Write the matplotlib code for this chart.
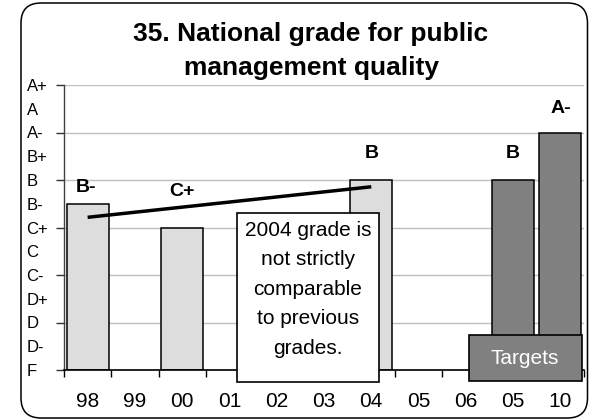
import matplotlib
matplotlib.use("Agg")
import matplotlib.pyplot as plt
from matplotlib.patches import Rectangle, FancyBboxPatch
import numpy as np

plt.rcParams['font.family'] = ['Liberation Sans', 'DejaVu Sans']

# ---- data ----
categories = ["98", "99", "00", "01", "02", "03", "04", "05", "06", "05", "10"]
grade_labels = ["F", "D-", "D", "D+", "C-", "C", "C+", "B-", "B", "B+", "A-", "A", "A+"]
actual_idx = [0, 2, 6]
actual_vals = [7, 6, 8]          # B-, C+, B
actual_text = ["B-", "C+", "B"]
target_idx = [9, 10]
target_vals = [8, 10]            # B, A-
target_text = ["B", "A-"]
note_text = "2004 grade is\nnot strictly\ncomparable\nto previous\ngrades."
target_box_text = "Targets"
title_text = "35. National grade for public\nmanagement quality"

# ---- styling ----
W, H = 589, 420
fig = plt.figure(figsize=(W / 100, H / 100), dpi=100)
ax = fig.add_axes([64 / W, 1 - 370 / H, 520 / W, 285 / H])

light = "#dddddd"
dark = "#808080"
bw = 0.89

ax.bar(actual_idx, actual_vals, width=bw, color=light, edgecolor="black", linewidth=1.1, zorder=2)
ax.bar(target_idx, target_vals, width=bw, color=dark, edgecolor="black", linewidth=1.1, zorder=2)

# linear trendline through actual grades
coef = np.polyfit(actual_idx, actual_vals, 1)
xs = np.array([actual_idx[0], actual_idx[-1]])
ax.plot(xs, np.polyval(coef, xs), color="black", lw=2.5, zorder=3, solid_capstyle="butt")

# bar labels
actual_offsets = [(-2, 16), (0, 36), (0, 27)]
for i, v, t, off in zip(actual_idx, actual_vals, actual_text, actual_offsets):
    ax.annotate(t, (i, v), xytext=off, textcoords="offset pixels",
                ha="center", va="center", fontsize=14, fontweight="bold", zorder=5)
target_offsets = [(0, 26), (0, 24)]
for i, v, t, off in zip(target_idx, target_vals, target_text, target_offsets):
    ax.annotate(t, (i, v), xytext=off, textcoords="offset pixels",
                ha="center", va="center", fontsize=14, fontweight="bold", zorder=5)

ax.set_xlim(-0.5, len(categories) - 0.5)
ax.set_ylim(0, len(grade_labels) - 1)

# x axis
ax.set_xticks(range(len(categories)))
ax.set_xticklabels(categories, fontsize=15)
ax.set_xticks(np.arange(-0.5, len(categories), 1.0), minor=True)
ax.tick_params(axis="x", which="major", length=0, pad=16)
ax.tick_params(axis="x", which="minor", length=5, width=1, direction="out", color="black")

# y axis
ax.yaxis.remove_overlapping_locs = False
ax.set_yticks(range(len(grade_labels)))
ax.set_yticklabels(grade_labels, fontsize=12)
for lbl in ax.get_yticklabels():
    lbl.set_horizontalalignment("left")
ax.tick_params(axis="y", which="major", length=0, pad=27)
ax.set_yticks(range(0, len(grade_labels), 2), minor=True)
ax.tick_params(axis="y", which="minor", length=6, width=1, direction="out", color="#333333")
ax.grid(axis="y", which="minor", color="#c0c0c0", lw=1, zorder=0)
ax.set_axisbelow(True)

for s in ["top", "right"]:
    ax.spines[s].set_visible(False)
ax.spines["left"].set_color("#404040")
ax.spines["left"].set_linewidth(1)
ax.spines["bottom"].set_color("black")
ax.spines["bottom"].set_linewidth(1.2)
ax.spines["bottom"].set_zorder(4)

# note box
ax.add_patch(Rectangle((3.16, -0.505), 3.0, 7.115, facecolor="white", edgecolor="black",
                       lw=1.2, zorder=6, clip_on=False))
ax.text(4.66, 3.39, note_text, ha="center", va="center", fontsize=15, linespacing=1.7, zorder=7)

# targets box
ax.add_patch(Rectangle((8.07, -0.46), 2.39, 1.93, facecolor=dark, edgecolor="black",
                       lw=1.2, zorder=6, clip_on=False))
ax.text(9.25, 0.5, target_box_text, ha="center", va="center", fontsize=15, color="white", zorder=7)

# title
fig.text(311 / W, 1 - 51 / H, title_text, ha="center", va="center", fontsize=19,
         fontweight="bold", linespacing=1.55)

# rounded outer frame
frame = FancyBboxPatch((0.21, 0.02), 5.665, 4.15, boxstyle="round,pad=0,rounding_size=0.2",
                       transform=fig.dpi_scale_trans, facecolor="none", edgecolor="black", lw=1.1)
fig.patches.append(frame)

fig.savefig("out.png", dpi=100)
